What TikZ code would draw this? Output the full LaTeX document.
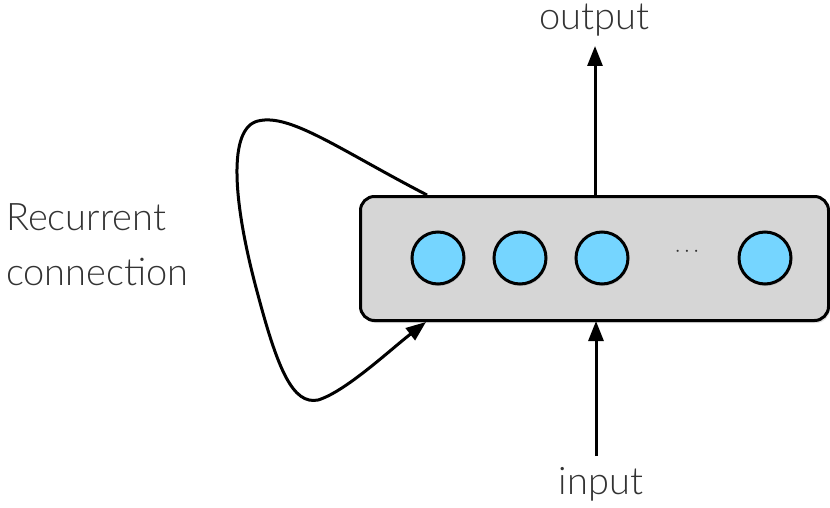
\documentclass[tikz,border=0pt]{standalone}
\usepackage{fontspec}
\setmainfont{Lato}[UprightFont=* Light]
\usetikzlibrary{arrows.meta,shadows}
\definecolor{boxgray}{HTML}{D6D6D6}
\definecolor{unitblue}{HTML}{75D5FF}
\definecolor{txtgray}{HTML}{333333}
\tikzset{
  layerbox/.style={draw=black, line width=3pt, fill=boxgray, rounded corners=14pt,
    drop shadow={shadow xshift=1.5pt, shadow yshift=-2.5pt, opacity=0.25}},
  unit/.style={circle, draw=black, line width=3pt, fill=unitblue, minimum size=52pt, inner sep=0pt,
    drop shadow={shadow xshift=1pt, shadow yshift=-2pt, opacity=0.25}},
  conn/.style={line width=3pt, -{Triangle[length=20pt,width=15pt]}},
  lbl/.style={font=\fontsize{38}{44}\selectfont, text=txtgray, inner sep=0pt}
}
\begin{document}
\begin{tikzpicture}[x=1pt,y=-1pt]
\useasboundingbox (0,0) rectangle (830,508);
% hidden layer with its units
\node[layerbox, minimum width=468pt, minimum height=124pt, inner sep=0pt] (layer) at (594.5,258.5) {};
\node[unit] (u1) at (438,258) {};
\node[unit] (u2) at (520,258) {};
\node[unit] (u3) at (602,258) {};
\node[unit] (un) at (765,258) {};
\node[font=\fontsize{20}{20}\selectfont, text=txtgray] (dots) at (687,252) {$\cdots$};
% labels
\node[lbl] (out) at (594,20) {output};
\node[lbl] (in) at (601,484) {input};
\node[lbl, anchor=west, align=left, font=\fontsize{38}{55}\selectfont] (rec) at (6,245) {Recurrent\\connection};
% input and output arrows
\coordinate (outtip) at (595,46);
\coordinate (inbase) at (596,456);
\draw[conn] (layer.north -| outtip) -- (outtip);
\draw[conn, shorten >=-1pt] (inbase) -- (layer.south -| inbase);
% recurrent loop from the top of the layer back to its bottom
\coordinate (loopstart) at (427,195);
\coordinate (loopend) at (426,322);
\draw[conn] (loopstart) .. controls (340,150) and (290,113) .. (258,121)
  .. controls (228,128) and (232,200) .. (258,295)
  .. controls (278,370) and (293,405) .. (318,400)
  .. controls (345,392) and (390,350) .. (loopend);
\end{tikzpicture}
\end{document}
